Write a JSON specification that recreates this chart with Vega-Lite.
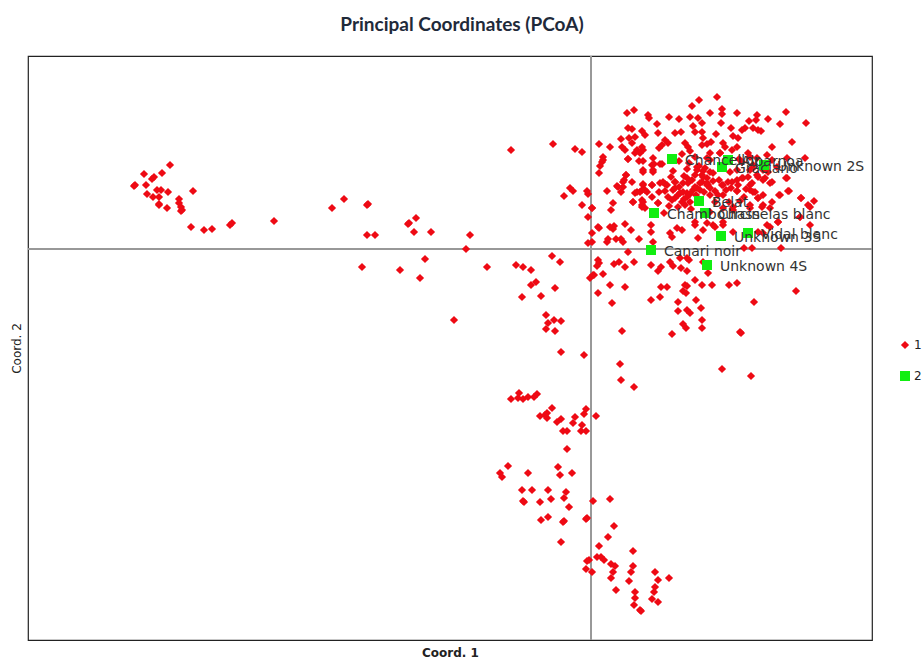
{"$schema":"https://vega.github.io/schema/vega-lite/v6.json","width":844,"height":584,"autosize":{"type":"none"},"padding":{"left":28,"top":56,"right":50,"bottom":19},"background":"white","config":{"view":{"stroke":"#222222","strokeWidth":1.2},"font":"DejaVu Sans"},"title":{"text":"Principal Coordinates (PCoA)","font":"Lato","fontSize":19,"fontWeight":"bold","color":"#1f2a3a","anchor":"middle","dx":12,"offset":20},
"data":{"values":[
{"x":-0.457,"y":0.063,"g":"1"},{"x":-0.456,"y":0.064,"g":"1"},{"x":-0.421,"y":0.084,"g":"1"},{"x":-0.447,"y":0.075,"g":"1"},{"x":-0.429,"y":0.076,"g":"1"},{"x":-0.437,"y":0.072,"g":"1"},{"x":-0.439,"y":0.07,"g":"1"},{"x":-0.445,"y":0.064,"g":"1"},{"x":-0.434,"y":0.059,"g":"1"},{"x":-0.43,"y":0.059,"g":"1"},{"x":-0.423,"y":0.057,"g":"1"},{"x":-0.398,"y":0.058,"g":"1"},{"x":-0.444,"y":0.055,"g":"1"},{"x":-0.438,"y":0.052,"g":"1"},{"x":-0.432,"y":0.052,"g":"1"},{"x":-0.412,"y":0.05,"g":"1"},{"x":-0.412,"y":0.046,"g":"1"},{"x":-0.432,"y":0.045,"g":"1"},{"x":-0.432,"y":0.044,"g":"1"},{"x":-0.424,"y":0.041,"g":"1"},{"x":-0.41,"y":0.042,"g":"1"},{"x":-0.409,"y":0.039,"g":"1"},{"x":-0.41,"y":0.038,"g":"1"},{"x":-0.4,"y":0.022,"g":"1"},{"x":-0.387,"y":0.019,"g":"1"},{"x":-0.379,"y":0.02,"g":"1"},{"x":-0.359,"y":0.026,"g":"1"},{"x":-0.361,"y":0.024,"g":"1"},{"x":-0.317,"y":0.028,"g":"1"},{"x":-0.259,"y":0.041,"g":"1"},{"x":-0.247,"y":0.05,"g":"1"},
{"x":-0.224,"y":0.044,"g":"1"},{"x":-0.223,"y":0.045,"g":"1"},{"x":-0.183,"y":0.025,"g":"1"},{"x":-0.182,"y":0.026,"g":"1"},{"x":-0.175,"y":0.031,"g":"1"},{"x":-0.177,"y":0.017,"g":"1"},{"x":-0.16,"y":0.017,"g":"1"},{"x":-0.224,"y":0.014,"g":"1"},{"x":-0.216,"y":0.014,"g":"1"},{"x":-0.121,"y":0.014,"g":"1"},{"x":-0.125,"y":0,"g":"1"},{"x":-0.166,"y":-0.01,"g":"1"},{"x":-0.229,"y":-0.018,"g":"1"},{"x":-0.191,"y":-0.021,"g":"1"},{"x":-0.171,"y":-0.029,"g":"1"},{"x":-0.104,"y":-0.018,"g":"1"},{"x":-0.075,"y":-0.016,"g":"1"},{"x":-0.068,"y":-0.018,"g":"1"},{"x":-0.06,"y":-0.021,"g":"1"},{"x":-0.039,"y":-0.007,"g":"1"},{"x":-0.031,"y":-0.013,"g":"1"},{"x":-0.055,"y":-0.033,"g":"1"},{"x":-0.06,"y":-0.036,"g":"1"},{"x":-0.036,"y":-0.039,"g":"1"},{"x":-0.069,"y":-0.048,"g":"1"},{"x":-0.05,"y":-0.047,"g":"1"},{"x":-0.045,"y":-0.066,"g":"1"},{"x":-0.037,"y":-0.071,"g":"1"},{"x":-0.03,"y":-0.072,"g":"1"},{"x":-0.043,"y":-0.074,"g":"1"},{"x":-0.045,"y":-0.08,"g":"1"},{"x":-0.036,"y":-0.082,"g":"1"},{"x":-0.137,"y":-0.071,"g":"1"},{"x":-0.03,"y":-0.103,"g":"1"},{"x":-0.007,"y":-0.106,"g":"1"},
{"x":-0.027,"y":0.053,"g":"1"},{"x":-0.021,"y":0.061,"g":"1"},{"x":-0.018,"y":0.058,"g":"1"},{"x":-0.004,"y":0.058,"g":"1"},{"x":-0.003,"y":0.055,"g":"1"},{"x":-0.009,"y":0.044,"g":"1"},{"x":0.001,"y":0.041,"g":"1"},{"x":-0.003,"y":0.032,"g":"1"},{"x":0.007,"y":0.022,"g":"1"},{"x":0.001,"y":0.016,"g":"1"},{"x":-0.003,"y":0.006,"g":"1"},{"x":-0.08,"y":0.099,"g":"1"},{"x":-0.038,"y":0.105,"g":"1"},{"x":-0.016,"y":0.1,"g":"1"},{"x":-0.009,"y":0.097,"g":"1"},
{"x":0.007,"y":-0.011,"g":"1"},{"x":0.008,"y":-0.014,"g":"1"},{"x":0.006,"y":-0.017,"g":"1"},{"x":0.002,"y":-0.026,"g":"1"},{"x":-0.001,"y":-0.029,"g":"1"},{"x":0.007,"y":-0.044,"g":"1"},
{"x":0.03,"y":-0.131,"g":"1"},{"x":0.043,"y":-0.138,"g":"1"},{"x":-0.072,"y":-0.144,"g":"1"},{"x":-0.08,"y":-0.15,"g":"1"},{"x":-0.073,"y":-0.149,"g":"1"},{"x":-0.068,"y":-0.15,"g":"1"},{"x":-0.063,"y":-0.148,"g":"1"},{"x":-0.057,"y":-0.148,"g":"1"},{"x":-0.054,"y":-0.145,"g":"1"},{"x":-0.039,"y":-0.159,"g":"1"},{"x":-0.051,"y":-0.167,"g":"1"},{"x":-0.044,"y":-0.164,"g":"1"},{"x":-0.044,"y":-0.169,"g":"1"},{"x":-0.046,"y":-0.166,"g":"1"},{"x":-0.034,"y":-0.173,"g":"1"},{"x":-0.03,"y":-0.17,"g":"1"},{"x":-0.016,"y":-0.168,"g":"1"},{"x":-0.018,"y":-0.174,"g":"1"},{"x":-0.005,"y":-0.16,"g":"1"},{"x":-0.007,"y":-0.165,"g":"1"},{"x":0.005,"y":-0.167,"g":"1"},{"x":-0.009,"y":-0.176,"g":"1"},{"x":-0.028,"y":-0.182,"g":"1"},{"x":-0.024,"y":-0.182,"g":"1"},{"x":-0.01,"y":-0.182,"g":"1"},{"x":-0.005,"y":-0.182,"g":"1"},{"x":-0.024,"y":-0.2,"g":"1"},
{"x":-0.083,"y":-0.217,"g":"1"},{"x":-0.091,"y":-0.224,"g":"1"},{"x":-0.089,"y":-0.228,"g":"1"},{"x":-0.063,"y":-0.224,"g":"1"},{"x":-0.033,"y":-0.218,"g":"1"},{"x":-0.031,"y":-0.226,"g":"1"},{"x":-0.019,"y":-0.224,"g":"1"},{"x":-0.069,"y":-0.241,"g":"1"},{"x":-0.059,"y":-0.241,"g":"1"},{"x":-0.043,"y":-0.241,"g":"1"},{"x":-0.025,"y":-0.243,"g":"1"},{"x":-0.068,"y":-0.252,"g":"1"},{"x":-0.067,"y":-0.253,"g":"1"},{"x":-0.051,"y":-0.253,"g":"1"},{"x":-0.04,"y":-0.25,"g":"1"},{"x":-0.027,"y":-0.249,"g":"1"},{"x":-0.022,"y":-0.258,"g":"1"},{"x":0.002,"y":-0.252,"g":"1"},{"x":0.019,"y":-0.25,"g":"1"},{"x":-0.043,"y":-0.268,"g":"1"},{"x":-0.05,"y":-0.271,"g":"1"},{"x":-0.028,"y":-0.273,"g":"1"},{"x":-0.027,"y":-0.272,"g":"1"},{"x":-0.005,"y":-0.27,"g":"1"},{"x":-0.004,"y":-0.269,"g":"1"},{"x":0.023,"y":-0.277,"g":"1"},{"x":0.017,"y":-0.288,"g":"1"},{"x":-0.03,"y":-0.293,"g":"1"},{"x":0.008,"y":-0.297,"g":"1"},{"x":0.042,"y":-0.302,"g":"1"},{"x":0.006,"y":-0.308,"g":"1"},{"x":0.01,"y":-0.308,"g":"1"},{"x":0.013,"y":-0.311,"g":"1"},{"x":-0.002,"y":-0.311,"g":"1"},{"x":-0.004,"y":-0.312,"g":"1"},{"x":0.042,"y":-0.317,"g":"1"},{"x":0.02,"y":-0.315,"g":"1"},{"x":0.024,"y":-0.317,"g":"1"},{"x":-0.005,"y":-0.32,"g":"1"},{"x":0.001,"y":-0.323,"g":"1"},{"x":0.022,"y":-0.323,"g":"1"},{"x":0.04,"y":-0.323,"g":"1"},{"x":0.064,"y":-0.323,"g":"1"},{"x":0.02,"y":-0.329,"g":"1"},{"x":0.038,"y":-0.332,"g":"1"},{"x":0.067,"y":-0.331,"g":"1"},{"x":0.078,"y":-0.329,"g":"1"},{"x":0.025,"y":-0.341,"g":"1"},{"x":0.044,"y":-0.343,"g":"1"},{"x":0.064,"y":-0.338,"g":"1"},{"x":0.063,"y":-0.343,"g":"1"},{"x":0.044,"y":-0.349,"g":"1"},{"x":0.061,"y":-0.35,"g":"1"},{"x":0.067,"y":-0.353,"g":"1"},{"x":0.043,"y":-0.356,"g":"1"},{"x":0.049,"y":-0.361,"g":"1"},{"x":0.05,"y":-0.362,"g":"1"},
{"x":0.008,"y":0.021,"g":"1"},{"x":0.023,"y":0.023,"g":"1"},{"x":0.022,"y":0.02,"g":"1"},{"x":0.019,"y":0.022,"g":"1"},{"x":0.034,"y":0.025,"g":"1"},{"x":0.04,"y":0.019,"g":"1"},{"x":0.048,"y":0.01,"g":"1"},{"x":0.017,"y":0.01,"g":"1"},{"x":0.016,"y":0.007,"g":"1"},{"x":0.025,"y":0.01,"g":"1"},{"x":0.03,"y":0.01,"g":"1"},{"x":0.032,"y":0.007,"g":"1"},{"x":0.001,"y":0.007,"g":"1"},{"x":0.037,"y":-0.003,"g":"1"},{"x":0.023,"y":-0.015,"g":"1"},{"x":0.028,"y":-0.013,"g":"1"},{"x":0.034,"y":-0.018,"g":"1"},{"x":0.043,"y":-0.013,"g":"1"},{"x":0.012,"y":-0.025,"g":"1"},{"x":0.003,"y":-0.026,"g":"1"},{"x":0.019,"y":-0.036,"g":"1"},{"x":0.034,"y":-0.038,"g":"1"},{"x":0.021,"y":-0.054,"g":"1"},{"x":0.06,"y":-0.016,"g":"1"},{"x":0.07,"y":-0.018,"g":"1"},{"x":0.067,"y":-0.022,"g":"1"},{"x":0.079,"y":-0.013,"g":"1"},{"x":0.082,"y":-0.017,"g":"1"},{"x":0.089,"y":-0.009,"g":"1"},{"x":0.096,"y":-0.009,"g":"1"},{"x":0.098,"y":-0.011,"g":"1"},{"x":0.09,"y":-0.019,"g":"1"},{"x":0.096,"y":-0.022,"g":"1"},{"x":0.112,"y":-0.013,"g":"1"},{"x":0.117,"y":-0.024,"g":"1"},{"x":0.104,"y":-0.031,"g":"1"},{"x":0.111,"y":-0.036,"g":"1"},{"x":0.121,"y":-0.036,"g":"1"},{"x":0.138,"y":-0.036,"g":"1"},{"x":0.146,"y":-0.034,"g":"1"},{"x":0.07,"y":-0.038,"g":"1"},{"x":0.076,"y":-0.038,"g":"1"},{"x":0.094,"y":-0.036,"g":"1"},{"x":0.096,"y":-0.037,"g":"1"},{"x":0.092,"y":-0.042,"g":"1"},{"x":0.095,"y":-0.044,"g":"1"},{"x":0.205,"y":-0.042,"g":"1"},{"x":0.06,"y":-0.051,"g":"1"},{"x":0.069,"y":-0.048,"g":"1"},{"x":0.087,"y":-0.053,"g":"1"},{"x":0.105,"y":-0.051,"g":"1"},{"x":0.11,"y":-0.059,"g":"1"},{"x":0.163,"y":-0.053,"g":"1"},{"x":0.087,"y":-0.062,"g":"1"},{"x":0.096,"y":-0.061,"g":"1"},{"x":0.099,"y":-0.064,"g":"1"},{"x":0.111,"y":-0.071,"g":"1"},{"x":0.092,"y":-0.075,"g":"1"},{"x":0.095,"y":-0.079,"g":"1"},{"x":0.111,"y":-0.079,"g":"1"},{"x":0.031,"y":-0.082,"g":"1"},{"x":0.081,"y":-0.085,"g":"1"},{"x":0.149,"y":-0.083,"g":"1"},{"x":0.15,"y":-0.084,"g":"1"},{"x":0.131,"y":-0.12,"g":"1"},{"x":0.16,"y":-0.127,"g":"1"},{"x":0.029,"y":-0.115,"g":"1"},{"x":0.161,"y":0.001,"g":"1"},{"x":0.19,"y":0.001,"g":"1"},{"x":0.153,"y":0.001,"g":"1"},{"x":0.142,"y":0.017,"g":"1"},{"x":0.079,"y":0.016,"g":"1"},{"x":0.081,"y":0.012,"g":"1"},{"x":0.086,"y":0.021,"g":"1"},{"x":0.091,"y":0.019,"g":"1"},{"x":0.107,"y":0.011,"g":"1"},{"x":0.112,"y":0.019,"g":"1"},{"x":0.104,"y":0.024,"g":"1"},{"x":0.124,"y":0.022,"g":"1"},{"x":0.06,"y":0.024,"g":"1"},{"x":0.06,"y":0.017,"g":"1"},{"x":0.062,"y":0.007,"g":"1"},{"x":0.132,"y":0.027,"g":"1"},{"x":0.179,"y":0.022,"g":"1"},{"x":0.172,"y":0.016,"g":"1"},{"x":0.167,"y":0.017,"g":"1"},{"x":0.187,"y":0.027,"g":"1"},{"x":0.209,"y":0.032,"g":"1"},{"x":0.219,"y":0.024,"g":"1"},
{"x":0.126,"y":0.152,"g":"1"},{"x":0.108,"y":0.149,"g":"1"},{"x":0.101,"y":0.143,"g":"1"},{"x":0.043,"y":0.139,"g":"1"},{"x":0.036,"y":0.136,"g":"1"},{"x":0.057,"y":0.134,"g":"1"},{"x":0.058,"y":0.131,"g":"1"},{"x":0.078,"y":0.132,"g":"1"},{"x":0.088,"y":0.13,"g":"1"},{"x":0.099,"y":0.132,"g":"1"},{"x":0.107,"y":0.131,"g":"1"},{"x":0.119,"y":0.136,"g":"1"},{"x":0.131,"y":0.14,"g":"1"},{"x":0.131,"y":0.135,"g":"1"},{"x":0.13,"y":0.126,"g":"1"},{"x":0.146,"y":0.136,"g":"1"},{"x":0.166,"y":0.134,"g":"1"},{"x":0.165,"y":0.129,"g":"1"},{"x":0.158,"y":0.128,"g":"1"},{"x":0.177,"y":0.13,"g":"1"},{"x":0.195,"y":0.137,"g":"1"},{"x":0.189,"y":0.125,"g":"1"},{"x":0.215,"y":0.126,"g":"1"},{"x":0.162,"y":0.121,"g":"1"},{"x":0.154,"y":0.121,"g":"1"},{"x":0.151,"y":0.119,"g":"1"},{"x":0.167,"y":0.119,"g":"1"},{"x":0.17,"y":0.118,"g":"1"},{"x":0.14,"y":0.121,"g":"1"},{"x":0.111,"y":0.126,"g":"1"},{"x":0.102,"y":0.123,"g":"1"},{"x":0.111,"y":0.117,"g":"1"},{"x":0.104,"y":0.117,"g":"1"},{"x":0.066,"y":0.125,"g":"1"},{"x":0.067,"y":0.116,"g":"1"},{"x":0.037,"y":0.121,"g":"1"},{"x":0.041,"y":0.12,"g":"1"},{"x":0.051,"y":0.118,"g":"1"},{"x":0.054,"y":0.114,"g":"1"},{"x":0.09,"y":0.117,"g":"1"},{"x":0.084,"y":0.116,"g":"1"},{"x":0.125,"y":0.115,"g":"1"},{"x":0.142,"y":0.113,"g":"1"},{"x":0.147,"y":0.111,"g":"1"},{"x":0.201,"y":0.107,"g":"1"},{"x":0.181,"y":0.102,"g":"1"},{"x":0.03,"y":0.11,"g":"1"},{"x":0.038,"y":0.111,"g":"1"},{"x":0.044,"y":0.112,"g":"1"},{"x":0.041,"y":0.106,"g":"1"},{"x":0.051,"y":0.102,"g":"1"},{"x":0.052,"y":0.099,"g":"1"},{"x":0.008,"y":0.105,"g":"1"},{"x":0.019,"y":0.102,"g":"1"},{"x":0.031,"y":0.102,"g":"1"},{"x":0.034,"y":0.099,"g":"1"},{"x":0.046,"y":0.099,"g":"1"},{"x":0.044,"y":0.096,"g":"1"},{"x":0.049,"y":0.096,"g":"1"},{"x":0.074,"y":0.109,"g":"1"},{"x":0.077,"y":0.106,"g":"1"},{"x":0.071,"y":0.104,"g":"1"},{"x":0.068,"y":0.101,"g":"1"},{"x":0.094,"y":0.106,"g":"1"},{"x":0.097,"y":0.102,"g":"1"},{"x":0.099,"y":0.098,"g":"1"},{"x":0.112,"y":0.111,"g":"1"},{"x":0.111,"y":0.104,"g":"1"},{"x":0.12,"y":0.107,"g":"1"},{"x":0.116,"y":0.105,"g":"1"},{"x":0.132,"y":0.106,"g":"1"},{"x":0.134,"y":0.102,"g":"1"},{"x":0.141,"y":0.099,"g":"1"},{"x":0.146,"y":0.102,"g":"1"},{"x":0.037,"y":0.09,"g":"1"},{"x":0.012,"y":0.092,"g":"1"},{"x":0.011,"y":0.087,"g":"1"},{"x":0.009,"y":0.083,"g":"1"},{"x":0.008,"y":0.076,"g":"1"},{"x":0.048,"y":0.088,"g":"1"},{"x":0.062,"y":0.091,"g":"1"},{"x":0.061,"y":0.084,"g":"1"},{"x":0.069,"y":0.085,"g":"1"},{"x":0.052,"y":0.079,"g":"1"},{"x":0.062,"y":0.079,"g":"1"},{"x":0.082,"y":0.078,"g":"1"},{"x":0.096,"y":0.08,"g":"1"},{"x":0.091,"y":0.095,"g":"1"},{"x":0.104,"y":0.092,"g":"1"},{"x":0.106,"y":0.082,"g":"1"},{"x":0.112,"y":0.078,"g":"1"},{"x":0.119,"y":0.077,"g":"1"},
{"x":0.035,"y":0.074,"g":"1"},{"x":0.032,"y":0.067,"g":"1"},{"x":0.03,"y":0.057,"g":"1"},{"x":0.016,"y":0.058,"g":"1"},{"x":0.026,"y":0.063,"g":"1"},{"x":0.042,"y":0.047,"g":"1"},{"x":0.022,"y":0.046,"g":"1"},{"x":0.02,"y":0.039,"g":"1"},{"x":0.001,"y":0.041,"g":"1"},{"x":0.049,"y":0.057,"g":"1"},{"x":0.054,"y":0.059,"g":"1"},{"x":0.052,"y":0.064,"g":"1"},{"x":0.061,"y":0.064,"g":"1"},{"x":0.069,"y":0.066,"g":"1"},{"x":0.074,"y":0.065,"g":"1"},{"x":0.084,"y":0.067,"g":"1"},{"x":0.082,"y":0.059,"g":"1"},{"x":0.089,"y":0.056,"g":"1"},{"x":0.096,"y":0.056,"g":"1"},{"x":0.084,"y":0.051,"g":"1"},{"x":0.077,"y":0.052,"g":"1"},{"x":0.067,"y":0.046,"g":"1"},{"x":0.052,"y":0.047,"g":"1"},{"x":0.051,"y":0.042,"g":"1"},{"x":0.044,"y":0.056,"g":"1"},{"x":0.092,"y":0.066,"g":"1"},{"x":0.104,"y":0.074,"g":"1"},{"x":0.111,"y":0.067,"g":"1"},{"x":0.116,"y":0.064,"g":"1"},{"x":0.106,"y":0.061,"g":"1"},{"x":0.119,"y":0.054,"g":"1"},{"x":0.131,"y":0.064,"g":"1"},{"x":0.137,"y":0.067,"g":"1"},{"x":0.146,"y":0.069,"g":"1"},{"x":0.152,"y":0.071,"g":"1"},{"x":0.159,"y":0.064,"g":"1"},{"x":0.162,"y":0.057,"g":"1"},{"x":0.167,"y":0.051,"g":"1"},{"x":0.172,"y":0.054,"g":"1"},{"x":0.146,"y":0.058,"g":"1"},{"x":0.132,"y":0.054,"g":"1"},{"x":0.166,"y":0.074,"g":"1"},{"x":0.181,"y":0.067,"g":"1"},{"x":0.196,"y":0.071,"g":"1"},{"x":0.189,"y":0.054,"g":"1"},{"x":0.198,"y":0.058,"g":"1"},{"x":0.21,"y":0.051,"g":"1"},{"x":0.223,"y":0.048,"g":"1"},{"x":0.219,"y":0.042,"g":"1"},{"x":0.179,"y":0.041,"g":"1"},{"x":0.172,"y":0.044,"g":"1"},{"x":0.159,"y":0.041,"g":"1"},{"x":0.142,"y":0.039,"g":"1"},{"x":0.132,"y":0.041,"g":"1"},{"x":0.119,"y":0.037,"g":"1"},{"x":0.176,"y":0.094,"g":"1"},{"x":0.166,"y":0.091,"g":"1"},{"x":0.157,"y":0.096,"g":"1"},{"x":0.151,"y":0.087,"g":"1"},{"x":0.162,"y":0.084,"g":"1"},{"x":0.172,"y":0.079,"g":"1"},{"x":0.181,"y":0.089,"g":"1"},{"x":0.214,"y":0.091,"g":"1"},{"x":0.196,"y":0.091,"g":"1"},{"x":0.186,"y":0.082,"g":"1"},{"x":0.174,"y":0.071,"g":"1"},{"x":0.159,"y":0.079,"g":"1"},{"x":0.146,"y":0.079,"g":"1"},{"x":0.139,"y":0.077,"g":"1"},{"x":0.129,"y":0.096,"g":"1"},{"x":0.116,"y":0.091,"g":"1"},{"x":0.119,"y":0.096,"g":"1"},
{"x":0.012,"y":0.089,"g":"1"},{"x":0.037,"y":0.09,"g":"1"},{"x":0.052,"y":0.088,"g":"1"},{"x":0.063,"y":0.085,"g":"1"},{"x":0.071,"y":0.085,"g":"1"},{"x":0.052,"y":0.077,"g":"1"},{"x":0.062,"y":0.077,"g":"1"},{"x":0.035,"y":0.074,"g":"1"},{"x":0.033,"y":0.069,"g":"1"},{"x":0.041,"y":0.067,"g":"1"},{"x":0.032,"y":0.062,"g":"1"},{"x":0.027,"y":0.062,"g":"1"},{"x":0.072,"y":0.067,"g":"1"},{"x":0.076,"y":0.064,"g":"1"},{"x":0.061,"y":0.064,"g":"1"},{"x":0.052,"y":0.065,"g":"1"},{"x":0.051,"y":0.059,"g":"1"},{"x":0.046,"y":0.057,"g":"1"},{"x":0.056,"y":0.057,"g":"1"},{"x":0.061,"y":0.052,"g":"1"},{"x":0.084,"y":0.067,"g":"1"},{"x":0.084,"y":0.061,"g":"1"},{"x":0.096,"y":0.071,"g":"1"},{"x":0.097,"y":0.066,"g":"1"},{"x":0.092,"y":0.057,"g":"1"},{"x":0.087,"y":0.054,"g":"1"},{"x":0.081,"y":0.049,"g":"1"},{"x":0.042,"y":0.047,"g":"1"},{"x":0.051,"y":0.049,"g":"1"},{"x":0.051,"y":0.044,"g":"1"},{"x":0.054,"y":0.041,"g":"1"},{"x":0.067,"y":0.046,"g":"1"},{"x":0.099,"y":0.047,"g":"1"},{"x":0.094,"y":0.044,"g":"1"},{"x":0.106,"y":0.079,"g":"1"},{"x":0.111,"y":0.074,"g":"1"},{"x":0.109,"y":0.066,"g":"1"},{"x":0.116,"y":0.071,"g":"1"},{"x":0.102,"y":0.059,"g":"1"},{"x":0.109,"y":0.059,"g":"1"},{"x":0.117,"y":0.064,"g":"1"},{"x":0.096,"y":0.052,"g":"1"},{"x":0.091,"y":0.047,"g":"1"},{"x":0.087,"y":0.042,"g":"1"},{"x":0.104,"y":0.027,"g":"1"},{"x":0.116,"y":0.026,"g":"1"},
{"x":0.129,"y":0.096,"g":"1"},{"x":0.119,"y":0.089,"g":"1"},{"x":0.114,"y":0.081,"g":"1"},{"x":0.122,"y":0.076,"g":"1"},{"x":0.112,"y":0.072,"g":"1"},{"x":0.116,"y":0.066,"g":"1"},{"x":0.119,"y":0.061,"g":"1"},{"x":0.132,"y":0.064,"g":"1"},{"x":0.141,"y":0.067,"g":"1"},{"x":0.151,"y":0.071,"g":"1"},{"x":0.159,"y":0.092,"g":"1"},{"x":0.162,"y":0.081,"g":"1"},{"x":0.167,"y":0.072,"g":"1"},{"x":0.172,"y":0.069,"g":"1"},{"x":0.177,"y":0.077,"g":"1"},{"x":0.179,"y":0.066,"g":"1"},{"x":0.195,"y":0.071,"g":"1"},{"x":0.161,"y":0.066,"g":"1"},{"x":0.159,"y":0.059,"g":"1"},{"x":0.164,"y":0.057,"g":"1"},{"x":0.167,"y":0.051,"g":"1"},{"x":0.146,"y":0.058,"g":"1"},{"x":0.127,"y":0.054,"g":"1"},{"x":0.188,"y":0.054,"g":"1"},{"x":0.197,"y":0.058,"g":"1"},{"x":0.21,"y":0.051,"g":"1"},{"x":0.217,"y":0.044,"g":"1"},{"x":0.209,"y":0.032,"g":"1"},{"x":0.187,"y":0.027,"g":"1"},{"x":0.176,"y":0.024,"g":"1"},{"x":0.159,"y":0.044,"g":"1"},{"x":0.171,"y":0.042,"g":"1"},{"x":0.181,"y":0.047,"g":"1"},{"x":0.142,"y":0.042,"g":"1"},{"x":0.116,"y":0.036,"g":"1"},{"x":0.132,"y":0.024,"g":"1"},{"x":0.122,"y":0.024,"g":"1"},
{"x":0.08,"y":0.072,"g":"1"},{"x":0.088,"y":0.062,"g":"1"},{"x":0.093,"y":0.073,"g":"1"},{"x":0.101,"y":0.069,"g":"1"},{"x":0.104,"y":0.062,"g":"1"},{"x":0.099,"y":0.055,"g":"1"},{"x":0.105,"y":0.054,"g":"1"},{"x":0.113,"y":0.057,"g":"1"},{"x":0.124,"y":0.058,"g":"1"},{"x":0.128,"y":0.069,"g":"1"},{"x":0.122,"y":0.068,"g":"1"},{"x":0.135,"y":0.059,"g":"1"},{"x":0.14,"y":0.061,"g":"1"},{"x":0.147,"y":0.064,"g":"1"},{"x":0.155,"y":0.06,"g":"1"},{"x":0.153,"y":0.052,"g":"1"},{"x":0.093,"y":0.05,"g":"1"},{"x":0.1,"y":0.04,"g":"1"},{"x":0.074,"y":0.058,"g":"1"},{"x":0.068,"y":0.057,"g":"1"},{"x":0.078,"y":0.043,"g":"1"},{"x":0.073,"y":0.036,"g":"1"},{"x":0.108,"y":0.083,"g":"1"},{"x":0.098,"y":0.086,"g":"1"},{"x":0.088,"y":0.088,"g":"1"},{"x":0.148,"y":0.09,"g":"1"},{"x":0.157,"y":0.072,"g":"1"},{"x":0.149,"y":0.048,"g":"1"},{"x":0.138,"y":0.047,"g":"1"},{"x":0.124,"y":0.047,"g":"1"},
{"x":0.081,"y":0.09,"g":"2","name":"Chancellor"},{"x":0.137,"y":0.089,"g":"2","name":"Alparnoa"},{"x":0.131,"y":0.082,"g":"2","name":"Graciano"},{"x":0.173,"y":0.084,"g":"2","name":"Unknown 2S"},{"x":0.108,"y":0.048,"g":"2","name":"Belat"},{"x":0.063,"y":0.036,"g":"2","name":"Chambourcin"},{"x":0.114,"y":0.036,"g":"2","name":"Chasselas blanc"},{"x":0.157,"y":0.016,"g":"2","name":"Vidal blanc"},{"x":0.13,"y":0.013,"g":"2","name":"Unknown 3S"},{"x":0.06,"y":-0.001,"g":"2","name":"Canari noir"},{"x":0.116,"y":-0.016,"g":"2","name":"Unknown 4S"}
]},
"layer":[
{"mark":{"type":"rule","color":"#999999","strokeWidth":1.4},"encoding":{"x":{"datum":0,"type":"quantitative","scale":{"domain":[-0.563,0.281],"nice":false,"zero":false},"axis":{"title":"Coord. 1","domain":false,"ticks":false,"labels":false,"grid":false,"titleFont":"DejaVu Sans","titleFontSize":12,"titleFontWeight":"bold","titleColor":"#222222","titlePadding":7}}}},
{"mark":{"type":"rule","color":"#999999","strokeWidth":1.4},"encoding":{"y":{"datum":0,"type":"quantitative","scale":{"domain":[-0.391,0.193],"nice":false,"zero":false},"axis":{"title":"Coord. 2","domain":false,"ticks":false,"labels":false,"grid":false,"titleFont":"DejaVu Sans","titleFontSize":12,"titleFontWeight":"normal","titleColor":"#222222","titlePadding":5}}}},
{"mark":{"type":"point","filled":true,"opacity":1,"strokeWidth":0},"encoding":{
"x":{"field":"x","type":"quantitative","scale":{"domain":[-0.563,0.281],"nice":false,"zero":false},"axis":{"title":"Coord. 1","domain":false,"ticks":false,"labels":false,"grid":false,"titleFont":"DejaVu Sans","titleFontSize":12,"titleFontWeight":"bold","titleColor":"#222222","titlePadding":7}},
"y":{"field":"y","type":"quantitative","scale":{"domain":[-0.391,0.193],"nice":false,"zero":false},"axis":{"title":"Coord. 2","domain":false,"ticks":false,"labels":false,"grid":false,"titleFont":"DejaVu Sans","titleFontSize":12,"titleFontWeight":"normal","titleColor":"#222222","titlePadding":5}},
"color":{"field":"g","type":"ordinal","scale":{"domain":["1","2"],"range":["#ee0a14","#11ee11"]},"legend":{"title":null,"orient":"none","legendX":871,"legendY":283,"labelFont":"DejaVu Sans","labelFontSize":12,"labelColor":"#222222","rowPadding":19,"labelOffset":3}},
"shape":{"field":"g","type":"ordinal","scale":{"domain":["1","2"],"range":["diamond","square"]}},
"size":{"field":"g","type":"ordinal","scale":{"domain":["1","2"],"range":[68,100]}}}},
{"transform":[{"filter":"datum.g === '2'"}],"mark":{"type":"text","align":"left","baseline":"middle","dx":13,"dy":2,"font":"DejaVu Sans","fontSize":14,"color":"#333333"},"encoding":{"x":{"field":"x","type":"quantitative"},"y":{"field":"y","type":"quantitative"},"text":{"field":"name"}}}
]}
